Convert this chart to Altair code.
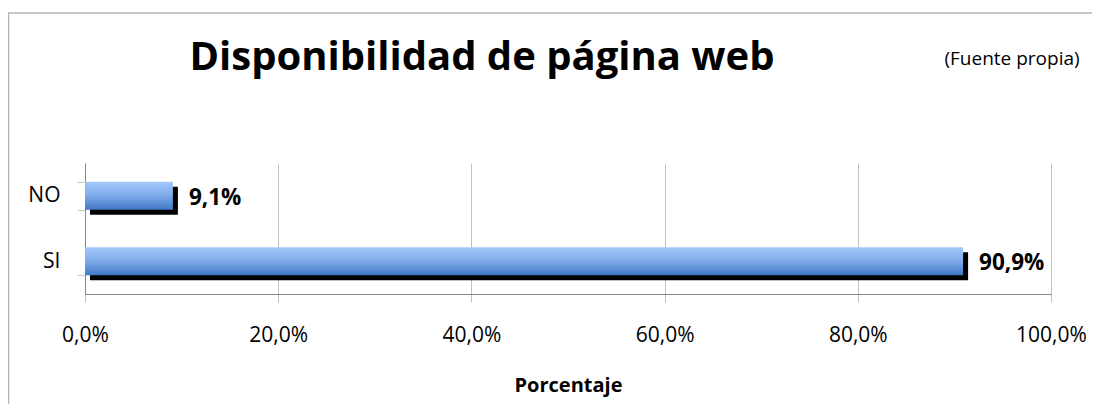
import altair as alt
import pandas as pd

categorias = ["NO", "SI"]
valores = [0.091, 0.909]
etiquetas = ["9,1%", "90,9%"]
ticks_x = [0, 0.2, 0.4, 0.6, 0.8, 1.0]

df = pd.DataFrame({"cat": categorias, "val": valores, "lab": etiquetas})

FONT = "Open Sans"
W, H = 966, 131

y_enc = alt.Y("cat:N", sort=categorias,
              scale=alt.Scale(paddingInner=0.57, paddingOuter=0.285),
              axis=alt.Axis(title=None, grid=False, tickBand="extent", tickSize=8,
                            tickColor="#c8c8c8", domainColor="#868686",
                            labelFontSize=21, labelFont=FONT, labelColor="#000000",
                            labelPadding=17))
x_enc = alt.X("val:Q", scale=alt.Scale(domain=[0, 1], nice=False),
              axis=alt.Axis(title="Porcentaje", values=ticks_x,
                            labelExpr="replace(format(datum.value, '.1%'), '.', ',')",
                            labelFlush=False,
                            grid=True, gridColor="#c0c0c0", tickSize=8, tickColor="#c0c0c0",
                            domainColor="#868686", labelFontSize=21, labelFont=FONT,
                            labelColor="#000000", labelPadding=22,
                            titleFont=FONT, titleFontSize=20, titleFontWeight="bold",
                            titleColor="#000000", titlePadding=30))

base = alt.Chart(df)

shadow = base.mark_bar(color="#000000", xOffset=5, yOffset=5).encode(x=x_enc, y=y_enc)

grad = alt.Gradient(gradient="linear",
                    stops=[alt.GradientStop(color="#a3c8fa", offset=0),
                           alt.GradientStop(color="#7eaaea", offset=0.5),
                           alt.GradientStop(color="#3f78c6", offset=1)],
                    x1=0, x2=0, y1=0, y2=1)
bars = base.mark_bar(color=grad).encode(x=x_enc, y=y_enc)

labels = base.mark_text(align="left", baseline="middle", dx=16, dy=2, font=FONT,
                        fontSize=22.5, fontWeight="bold", color="#000000").encode(
    x=x_enc, y=y_enc, text="lab:N")

ann = alt.Chart(alt.Data(values=[{}]))
title = ann.mark_text(text="Disponibilidad de página web", font=FONT, fontSize=40,
                      fontWeight="bold", align="center", baseline="middle",
                      color="#000000").encode(x=alt.value(397), y=alt.value(-105))
src = ann.mark_text(text="(Fuente propia)", font=FONT, fontSize=19, align="center",
                    baseline="middle", color="#000000").encode(x=alt.value(927), y=alt.value(-104))
frame_top = ann.mark_rule(color="#b4b4b4", strokeWidth=1.5).encode(
    x=alt.value(-77), x2=alt.value(1030), y=alt.value(-150))
frame_left = ann.mark_rule(color="#b4b4b4", strokeWidth=1.5).encode(
    x=alt.value(-76.5), y=alt.value(-150), y2=alt.value(260))

chart = alt.layer(frame_top, frame_left, shadow, bars, labels, title, src).properties(
    width=W, height=H,
    autosize=alt.AutoSizeParams(type="none"),
    padding={"left": 77, "top": 155, "right": 41, "bottom": 110},
    background="#ffffff",
).configure_view(strokeWidth=0)

chart.save("out.html", embed_options={"renderer": "svg", "actions": False})
